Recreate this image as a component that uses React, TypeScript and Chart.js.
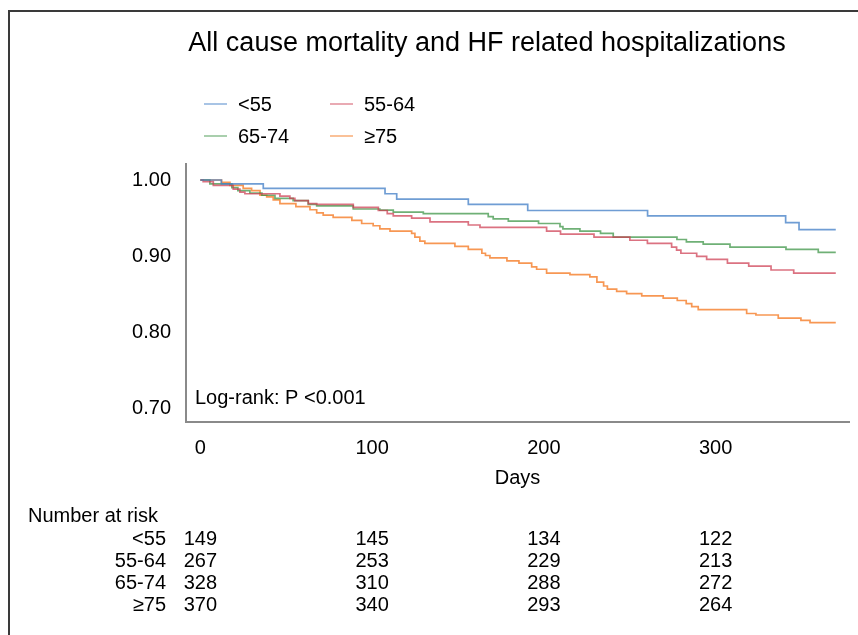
import React, { useEffect, useRef } from "react";
import { Chart, registerables } from "chart.js";

Chart.register(...registerables);

const FONT = "'Liberation Sans', Arial, Helvetica, sans-serif";

const TITLE = "All cause mortality and HF related hospitalizations";
const LOG_RANK = "Log-rank: P <0.001";
const X_TITLE = "Days";
const RISK_TITLE = "Number at risk";

const groups = ["<55", "55-64", "65-74", "≥75"];
const lineColors = [
  "rgba(70,130,200,0.78)",
  "rgba(205,60,80,0.72)",
  "rgba(55,145,65,0.72)",
  "rgba(245,125,40,0.80)",
];

const xTicks = [0, 100, 200, 300];
const yTicks = [0.7, 0.8, 0.9, 1.0];

// <55
const daysLt55 = [0, 12.2, 36.6, 107.5, 114.3, 156.0, 190.6, 260.4, 340.8, 348.6, 370];
const survLt55 = [1, 0.995, 0.989, 0.982, 0.975, 0.968, 0.96, 0.953, 0.944, 0.935, 0.935];

// 55-64
const days5564 = [
  0, 1.6, 7.5, 19.1, 23.0, 25.9, 46.3, 52.1, 55.0, 62.8, 67.7, 89.0, 103.6, 108.8, 112.3, 123.0,
  133.7, 156.0, 162.8, 201.6, 209.7, 229.2, 250.1, 260.3, 274.4, 277.3, 279.8, 289.0, 294.8, 306.9,
  319.3, 332.3, 345.5, 370,
];
const surv5564 = [
  1, 0.998, 0.993, 0.988, 0.984, 0.982, 0.979, 0.976, 0.973, 0.969, 0.968, 0.964, 0.96, 0.956, 0.953,
  0.95, 0.945, 0.941, 0.938, 0.933, 0.929, 0.925, 0.921, 0.917, 0.912, 0.908, 0.904, 0.9, 0.896,
  0.891, 0.887, 0.882, 0.878, 0.878,
];

// 65-74
const days6574 = [
  0, 5.5, 18.3, 21.8, 28.8, 35.8, 43.4, 54.0, 62.8, 67.7, 89.0, 104.5, 112.3, 129.8, 167.6, 170.5,
  179.3, 196.9, 209.4, 211.1, 221.0, 233.0, 240.4, 277.5, 283.0, 292.8, 308.4, 341.0, 359.8, 370,
];
const surv6574 = [
  1, 0.995, 0.99, 0.986, 0.983, 0.98, 0.976, 0.973, 0.968, 0.966, 0.962, 0.9605, 0.958, 0.956, 0.952,
  0.949, 0.946, 0.943, 0.939, 0.936, 0.933, 0.93, 0.925, 0.922, 0.919, 0.916, 0.912, 0.909, 0.905,
  0.905,
];

// >=75
const daysGe75 = [
  0, 12.3, 17.2, 24.9, 29.8, 34.7, 38.6, 42.4, 46.3, 55.6, 63.8, 67.7, 71.5, 77.3, 88.2, 93.9, 100.6,
  104.5, 110.4, 123.0, 124.9, 127.8, 130.7, 148.2, 156.0, 163.9, 166.0, 168.6, 178.5, 185.5, 192.9,
  195.8, 201.6, 215.2, 226.8, 230.9, 234.8, 237.0, 242.4, 248.2, 257.0, 269.5, 277.7, 282.9, 286.1,
  289.9, 318.1, 323.5, 336.5, 349.7, 355.0, 370,
];
const survGe75 = [
  1, 0.997, 0.993, 0.989, 0.986, 0.98, 0.978, 0.974, 0.969, 0.965, 0.961, 0.957, 0.954, 0.951, 0.947,
  0.943, 0.94, 0.936, 0.933, 0.93, 0.925, 0.92, 0.917, 0.913, 0.909, 0.904, 0.901, 0.898, 0.894,
  0.891, 0.886, 0.883, 0.878, 0.876, 0.873, 0.866, 0.861, 0.857, 0.854, 0.851, 0.848, 0.845, 0.842,
  0.838, 0.834, 0.83, 0.825, 0.823, 0.819, 0.816, 0.813, 0.813,
];

// Number at risk
const riskTimes = [0, 100, 200, 300];
const riskLt55 = [149, 145, 134, 122];
const risk5564 = [267, 253, 229, 213];
const risk6574 = [328, 310, 288, 272];
const riskGe75 = [370, 340, 293, 264];

const seriesDays = [daysLt55, days5564, days6574, daysGe75];
const seriesSurv = [survLt55, surv5564, surv6574, survGe75];
const riskRows = [riskLt55, risk5564, risk6574, riskGe75];

const overlayPlugin = {
  id: "overlay",
  afterDraw(chart: any) {
    const ctx: CanvasRenderingContext2D = chart.ctx;
    const xs = chart.scales.x;
    ctx.save();

    // outer frame (top and left edges)
    ctx.strokeStyle = "#3a3a3a";
    ctx.lineWidth = 2;
    ctx.beginPath();
    ctx.moveTo(9, 640);
    ctx.lineTo(9, 11);
    ctx.lineTo(860, 11);
    ctx.stroke();

    ctx.fillStyle = "#000";
    // title
    ctx.font = `27px ${FONT}`;
    ctx.textAlign = "center";
    ctx.textBaseline = "alphabetic";
    ctx.fillText(TITLE, 487, 51);

    // legend 2x2
    ctx.font = `20px ${FONT}`;
    ctx.textAlign = "left";
    ctx.textBaseline = "middle";
    const colX = [204, 330];
    const rowY = [104, 136];
    groups.forEach((g, i) => {
      const cx = colX[i % 2];
      const cy = rowY[Math.floor(i / 2)];
      ctx.strokeStyle = lineColors[i];
      ctx.globalAlpha = 0.75;
      ctx.lineWidth = 1.6;
      ctx.beginPath();
      ctx.moveTo(cx, cy);
      ctx.lineTo(cx + 23, cy);
      ctx.stroke();
      ctx.globalAlpha = 1;
      ctx.fillStyle = "#000";
      ctx.fillText(g, cx + 34, cy + 1);
    });

    // log-rank annotation
    ctx.textBaseline = "alphabetic";
    ctx.fillText(LOG_RANK, 195, 404);

    // risk table
    ctx.textBaseline = "middle";
    ctx.textAlign = "left";
    ctx.fillText(RISK_TITLE, 28, 516);
    const rowYs = [539, 561, 583, 605];
    riskRows.forEach((row, r) => {
      ctx.textAlign = "right";
      ctx.fillText(groups[r], 166, rowYs[r]);
      ctx.textAlign = "center";
      row.forEach((n, j) => {
        ctx.fillText(String(n), xs.getPixelForValue(riskTimes[j]), rowYs[r]);
      });
    });

    ctx.restore();
  },
};

export default function App() {
  const canvasRef = useRef<HTMLCanvasElement | null>(null);

  useEffect(() => {
    const canvas = canvasRef.current;
    if (!canvas) return;
    const chart = new Chart(canvas, {
      type: "line",
      data: {
        datasets: groups.map((g, i) => ({
          label: g,
          data: seriesDays[i].map((d, k) => ({ x: d, y: seriesSurv[i][k] })),
          borderColor: lineColors[i],
          borderWidth: 1.7,
          stepped: true,
          pointRadius: 0,
          fill: false,
          tension: 0,
        })),
      },
      options: {
        animation: false,
        responsive: false,
        maintainAspectRatio: false,
        events: [],
        layout: { padding: { left: 0, top: 164, right: 9, bottom: 145 } },
        plugins: {
          legend: { display: false },
          title: { display: false },
          tooltip: { enabled: false },
        },
        scales: {
          x: {
            type: "linear",
            min: -8.4,
            max: 377.7,
            grid: { display: false, drawTicks: false },
            border: { display: true, color: "#8a8a8a", width: 2 },
            ticks: {
              padding: 14,
              color: "#000",
              font: { family: FONT, size: 20 },
              autoSkip: false,
              maxRotation: 0,
              callback: (v: any) => String(v),
            },
            afterBuildTicks: (s: any) => {
              s.ticks = xTicks.map((v) => ({ value: v }));
            },
            afterFit: (s: any) => {
              s.height = 68;
            },
            title: {
              display: true,
              text: X_TITLE,
              color: "#000",
              font: { family: FONT, size: 20 },
              padding: { top: 0, bottom: 0 },
            },
          },
          y: {
            type: "linear",
            min: 0.6827,
            max: 1.021,
            grid: { display: false, drawTicks: false },
            border: { display: true, color: "#8a8a8a", width: 2 },
            ticks: {
              padding: 15,
              color: "#000",
              font: { family: FONT, size: 20 },
              callback: (v: any) => Number(v).toFixed(2),
            },
            afterBuildTicks: (s: any) => {
              s.ticks = yTicks.map((v) => ({ value: v }));
            },
            afterFit: (s: any) => {
              s.width = 186;
            },
          },
        },
      },
      plugins: [overlayPlugin],
    });
    return () => chart.destroy();
  }, []);

  return (
    <div style={{ position: "fixed", left: 0, top: 0, width: 858, height: 635, background: "#fff" }}>
      <canvas ref={canvasRef} width={858} height={635} style={{ display: "block" }} />
    </div>
  );
}
